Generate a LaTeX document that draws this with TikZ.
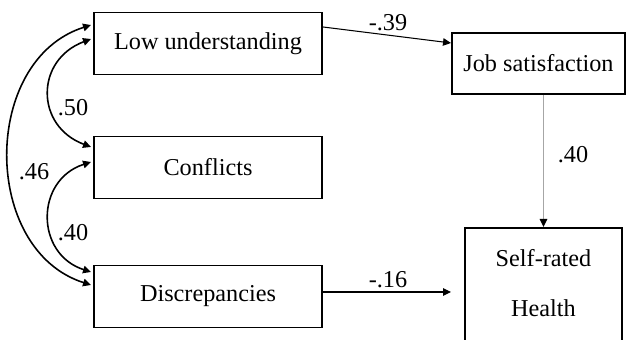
\documentclass[tikz,border=0pt]{standalone}
\usepackage{fontspec}
\setmainfont{Liberation Serif}
\usepackage{tikz}
\usetikzlibrary{arrows.meta,calc,positioning}

\tikzset{
    varbox/.style={draw, line width=1.1pt, minimum width=228*0.02cm, minimum height=62*0.02cm, inner sep=0pt, font=\fontsize{13.8}{16.5}\selectfont},
    coef/.style={font=\fontsize{13.8}{16.5}\selectfont, inner sep=0pt},
    corr/.style={line width=0.9pt, arrows={Triangle[length=1.6mm,width=1.5mm]-Triangle[length=1.6mm,width=1.5mm]}},
    effect/.style={line width=0.6pt, arrows={-Triangle[length=1.6mm,width=1.5mm]}},
}

\begin{document}
\begin{tikzpicture}[x=0.02cm, y=0.02cm]
    \useasboundingbox (0,0) rectangle (629,340);
    \clip (0,0) rectangle (629,340);
    \node[varbox] (lu) at (208,296.5) {Low understanding};
    \node[varbox] (cf) at (208,172.5) {Conflicts};
    \node[varbox] (ds) at (208,43.5) {Discrepancies};
    \node[varbox, minimum width=173*0.02cm, minimum height=61*0.02cm] (js) at (538.5,276.5) {Job satisfaction};
    \node[varbox, anchor=north, minimum width=157*0.02cm, minimum height=140*0.02cm] (srh) at (543.5,113) {};
    \node[coef, align=center, font=\fontsize{13.8}{28.5}\selectfont] (srhtext) at (543.5,57) {Self-rated\\Health};
    \draw[corr] ($(lu.west)+(-2,18.5)$) .. controls (-19,280) and (-19,90) .. ($(ds.west)+(-2,11.5)$);
    \draw[corr] ($(lu.west)+(-2,4.5)$) .. controls (35,280) and (35,214) .. ($(cf.west)+(-2,20.5)$);
    \draw[corr] ($(cf.west)+(-2,5.5)$) .. controls (35,160) and (35,86) .. ($(ds.west)+(-2,24.5)$);
    \draw[effect] ($(lu.east)+(0,16.5)$) -- ($(js.west)+(0,20.5)$);
    \draw[effect, gray!70, line width=0.8pt, arrows={-Triangle[length=1.6mm,width=1.5mm,black]}] (srh.north |- js.south) -- (srh.north);
    \draw[effect, shorten >=13*0.02cm] ($(ds.east)+(0,4.5)$) -- ($(ds.east -| srh.west)+(0,4.5)$);
    \node[coef] (r46) at (34,168) {.46};
    \node[coef] (r50) at (73,232) {.50};
    \node[coef] (r40) at (73,107) {.40};
    \node[coef] (b39) at (388,317) {-.39};
    \node[coef] (b40) at (573,185) {.40};
    \node[coef] (b16) at (388,60) {-.16};
\end{tikzpicture}
\end{document}
